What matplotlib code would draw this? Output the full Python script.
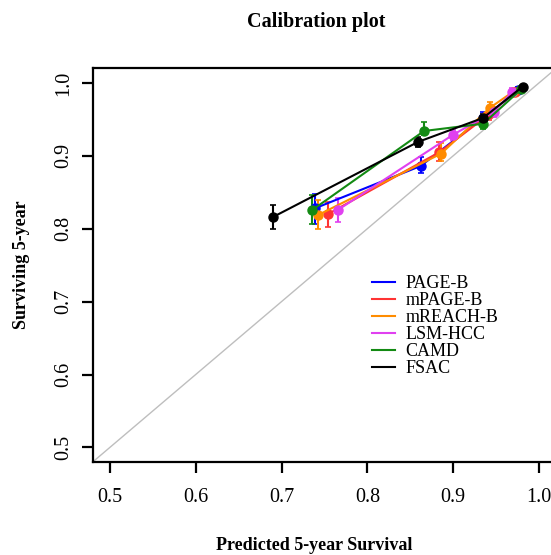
import matplotlib
matplotlib.use("Agg")
import matplotlib.pyplot as plt
import numpy as np
from matplotlib.lines import Line2D

plt.rcParams['font.family'] = ['Liberation Serif', 'DejaVu Serif']

# ---- data ----
series_names = ["PAGE-B", "mPAGE-B", "mREACH-B", "LSM-HCC", "CAMD", "FSAC"]
series_colors = ["#0000FF", "#FF3333", "#FF8C00", "#E040F0", "#138A13", "#000000"]

pageb_x = [0.739, 0.862, 0.935, 0.976]
pageb_y = [0.828, 0.886, 0.952, 0.990]
pageb_lo = [0.807, 0.876, 0.944, 0.986]
pageb_hi = [0.848, 0.899, 0.960, 0.994]

mpageb_x = [0.754, 0.884, 0.942, 0.972]
mpageb_y = [0.820, 0.905, 0.957, 0.988]
mpageb_lo = [0.802, 0.893, 0.949, 0.983]
mpageb_hi = [0.837, 0.919, 0.965, 0.993]

mreachb_x = [0.743, 0.886, 0.943, 0.970]
mreachb_y = [0.819, 0.903, 0.966, 0.988]
mreachb_lo = [0.799, 0.893, 0.959, 0.983]
mreachb_hi = [0.839, 0.917, 0.974, 0.992]

lsmhcc_x = [0.766, 0.900, 0.947, 0.969]
lsmhcc_y = [0.826, 0.929, 0.960, 0.988]
lsmhcc_lo = [0.809, 0.922, 0.953, 0.984]
lsmhcc_hi = [0.842, 0.935, 0.967, 0.993]

camd_x = [0.735, 0.866, 0.935, 0.979]
camd_y = [0.825, 0.934, 0.944, 0.991]
camd_lo = [0.807, 0.928, 0.937, 0.988]
camd_hi = [0.846, 0.947, 0.951, 0.994]

fsac_x = [0.690, 0.859, 0.935, 0.981]
fsac_y = [0.816, 0.919, 0.952, 0.995]
fsac_lo = [0.799, 0.912, 0.945, 0.993]
fsac_hi = [0.832, 0.926, 0.958, 0.997]

xticks = [0.5, 0.6, 0.7, 0.8, 0.9, 1.0]
yticks = [0.5, 0.6, 0.7, 0.8, 0.9, 1.0]
tick_labels = ["0.5", "0.6", "0.7", "0.8", "0.9", "1.0"]

all_x = [pageb_x, mpageb_x, mreachb_x, lsmhcc_x, camd_x, fsac_x]
all_y = [pageb_y, mpageb_y, mreachb_y, lsmhcc_y, camd_y, fsac_y]
all_lo = [pageb_lo, mpageb_lo, mreachb_lo, lsmhcc_lo, camd_lo, fsac_lo]
all_hi = [pageb_hi, mpageb_hi, mreachb_hi, lsmhcc_hi, camd_hi, fsac_hi]

# ---- figure ----
W, H = 551, 555
fig = plt.figure(figsize=(W / 100, H / 100), dpi=100)
ax = fig.add_axes([92.7 / W, (H - 462) / H, (556.2 - 92.7) / W, (462 - 68.3) / H])
ax.set_xlim(0.48, 1.02)
ax.set_ylim(0.48, 1.02)

# diagonal reference
ax.plot([0.4, 1.1], [0.4, 1.1], color="#BEBEBE", lw=1.0, zorder=1)

for name, col, xs, ys, lo, hi in zip(series_names, series_colors, all_x, all_y, all_lo, all_hi):
    ys_a = np.array(ys)
    yerr = np.vstack([ys_a - np.array(lo), np.array(hi) - ys_a])
    ax.errorbar(xs, ys, yerr=yerr, color=col, lw=1.5, elinewidth=1.5,
                capsize=2, capthick=1.2, marker="o", ms=6.5, label=name, zorder=3)

ax.set_xticks(xticks)
ax.set_xticklabels(tick_labels)
ax.set_yticks(yticks)
ax.set_yticklabels(tick_labels, rotation=90, va="center")
ax.tick_params(axis="both", direction="out", length=8, width=1.6, labelsize=14.5)
ax.tick_params(axis="x", pad=11)
ax.tick_params(axis="y", pad=6)
for s in ax.spines.values():
    s.set_linewidth(1.6)

# legend
lh = [Line2D([0], [0], color=c, lw=1.5) for c in series_colors]
ax.legend(lh, series_names, loc="upper left",
          bbox_to_anchor=((372 - 92.7) / (556.2 - 92.7), 1 - (275 - 68.3) / (462 - 68.3)),
          frameon=False, fontsize=13, handlelength=1.3, handletextpad=0.55,
          labelspacing=0.0, borderaxespad=0, borderpad=0)

fig.text(316 / W, 1 - 22 / H, "Calibration plot", ha="center", va="center",
         fontsize=14.5, fontweight="bold")
fig.text(314 / W, 1 - 545 / H, "Predicted 5-year Survival", ha="center", va="center",
         fontsize=13, fontweight="bold")
fig.text(22 / W, 1 - 265 / H, "Surviving 5-year", ha="center", va="center",
         rotation=90, fontsize=13, fontweight="bold")

fig.savefig("out.png", dpi=100)
